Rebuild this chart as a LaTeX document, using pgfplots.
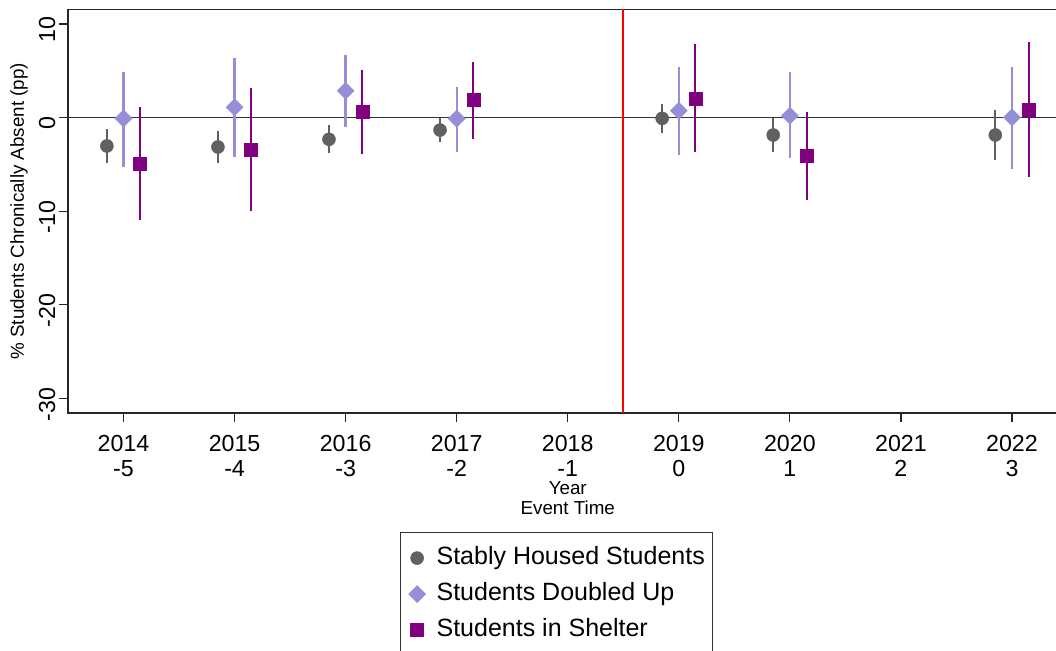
\documentclass[border=0pt]{standalone}
\usepackage{fontspec}
\setmainfont{Liberation Sans}
\usepackage{pgfplots}
\usepackage{pgfplotstable}
\pgfplotsset{compat=1.18}
\definecolor{cgray}{HTML}{606060}
\definecolor{clav}{HTML}{948FD6}
\definecolor{cpur}{HTML}{800080}

\pgfplotstableread{
x y lo hi
2013.85 -3.04 -4.89 -1.23
2014.85 -3.15 -4.89 -1.41
2015.85 -2.33 -3.82 -0.80
2016.85 -1.34 -2.59 -0.09
2018.85 -0.09 -1.69 1.44
2019.85 -1.87 -3.65 -0.09
2021.85 -1.87 -4.54 0.80
}\stable

\pgfplotstableread{
x y lo hi
2014 -0.10 -5.26 4.89
2015 1.09 -4.19 6.32
2016 2.86 -0.98 6.68
2017 -0.12 -3.65 3.23
2019 0.73 -4.01 5.43
2020 0.19 -4.36 4.83
2022 0.02 -5.50 5.43
}\doubled

\pgfplotstableread{
x y lo hi
2014.15 -4.89 -10.95 1.15
2015.15 -3.40 -9.99 3.12
2016.15 0.62 -3.90 5.07
2017.15 1.87 -2.33 5.96
2019.15 2.05 -3.72 7.82
2020.15 -4.08 -8.81 0.62
2022.15 0.88 -6.32 8.03
}\shelter

\begin{document}
\begin{tikzpicture}[x=1pt,y=1pt]
\useasboundingbox (0,0) rectangle (1056,650);
\begin{axis}[
  at={(68pt,237pt)}, anchor=south west,
  scale only axis, width=999.5pt, height=403.5pt,
  xmin=2013.5, xmax=2022.5, ymin=-31.57, ymax=11.54,
  axis line style={black!85, line width=1.4pt},
  xtick={2014,2015,2016,2017,2018,2019,2020,2021,2022},
  xticklabels={{2014\\-5},{2015\\-4},{2016\\-3},{2017\\-2},{2018\\-1},{2019\\0},{2020\\1},{2021\\2},{2022\\3}},
  ytick={-30,-20,-10,0,10},
  yticklabels={-30,-20,-10,0,10},
  xtick pos=bottom, ytick pos=left,
  tick align=outside, major tick length=9pt,
  tick style={black!85, line width=1.2pt},
  xticklabel style={font=\fontsize{23.2}{25}\selectfont, align=center, yshift=-10pt},
  yticklabel style={font=\fontsize{23.2}{25}\selectfont, rotate=90, anchor=south, xshift=-6pt},
  xlabel={Year\\Event Time},
  xlabel style={at={(axis description cs:0.5,-0.1698)}, anchor=north, inner sep=0pt, align=center, font=\fontsize{18.8}{19.5}\selectfont},
  ylabel={\% Students Chronically Absent (pp)},
  ylabel style={at={(axis description cs:-0.049,0.5)}, anchor=center, inner sep=0pt, font=\fontsize{18.8}{20}\selectfont},
  legend style={at={(axis description cs:0.3322,-0.2949)}, anchor=north west,
    draw=black!80, line width=1.2pt, inner xsep=8pt, inner ysep=14pt,
    font=\fontsize{25}{28}\selectfont,
    nodes={inner sep=0pt, text height=18pt, text depth=5pt},
    row sep=13pt, column sep=11pt, cells={anchor=west}},
  legend image code/.code={\path[draw=none, fill=none] (0pt,0pt) rectangle (16pt,1pt); \draw[#1] plot coordinates {(8pt,0pt)};},
  legend cell align=left,
]
\addplot [forget plot, black!80, line width=1.8pt] coordinates {(2013.5,0) (2022.5,0)};
\addplot [forget plot, red, line width=2pt] coordinates {(2018.5,-31.57) (2018.5,11.54)};

\addplot [only marks, mark=*, mark size=6.5pt, color=cgray, mark options={fill=cgray, draw=cgray, line width=0.5pt},
  error bars/.cd, y dir=both, y explicit, error mark=none, error bar style={line width=2pt, color=cgray}]
  table [x=x, y=y, y error plus expr=\thisrow{hi}-\thisrow{y}, y error minus expr=\thisrow{y}-\thisrow{lo}] {\stable};
\addlegendentry{Stably Housed Students}

\addplot [only marks, mark=square*, mark size=6pt, color=clav, mark options={fill=clav, draw=clav, rotate=45, line width=0.5pt},
  error bars/.cd, y dir=both, y explicit, error mark=none, error bar style={line width=2.3pt, color=clav}]
  table [x=x, y=y, y error plus expr=\thisrow{hi}-\thisrow{y}, y error minus expr=\thisrow{y}-\thisrow{lo}] {\doubled};
\addlegendentry{Students Doubled Up}

\addplot [only marks, mark=square*, mark size=6.5pt, color=cpur, mark options={fill=cpur, draw=cpur, line width=0.5pt},
  error bars/.cd, y dir=both, y explicit, error mark=none, error bar style={line width=2pt, color=cpur}]
  table [x=x, y=y, y error plus expr=\thisrow{hi}-\thisrow{y}, y error minus expr=\thisrow{y}-\thisrow{lo}] {\shelter};
\addlegendentry{Students in Shelter}
\end{axis}
\end{tikzpicture}
\end{document}
